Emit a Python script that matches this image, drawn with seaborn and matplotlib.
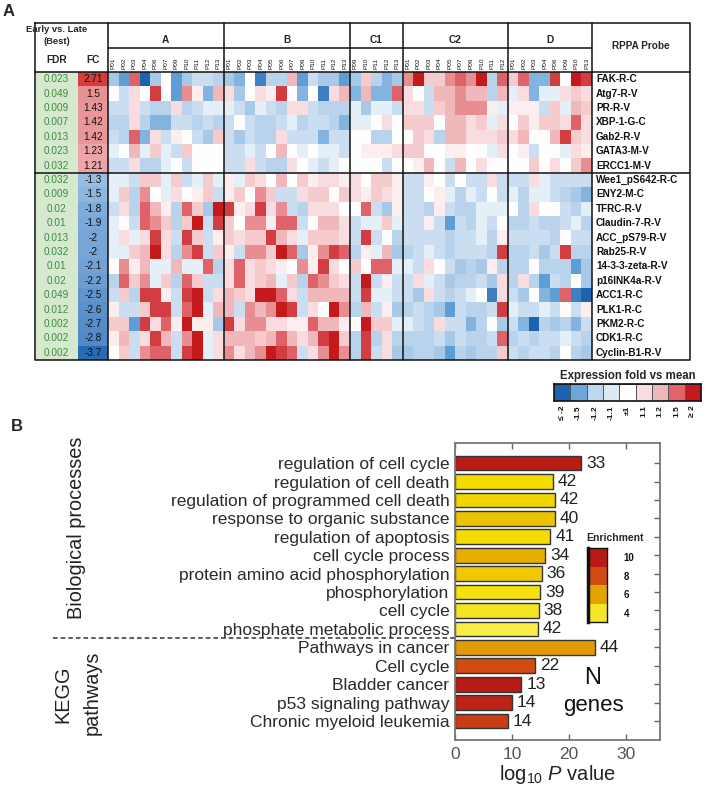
import numpy as np
import matplotlib
matplotlib.use("Agg")
import matplotlib.pyplot as plt
import seaborn as sns
from matplotlib.colors import ListedColormap, LinearSegmentedColormap, Normalize
from matplotlib.transforms import blended_transform_factory

sns.set_theme(style="white")
plt.rcParams["font.family"] = ["Liberation Sans", "DejaVu Sans"]
plt.rcParams["mathtext.fontset"] = "custom"
plt.rcParams["mathtext.rm"] = "Liberation Sans"
plt.rcParams["mathtext.it"] = "Liberation Sans:italic"

# ---------------- panel A data ----------------
groups = ["A", "B", "C1", "C2", "D"]
samples_A = ["P01", "P02", "P03", "P04", "P06", "P07", "P09", "P10", "P11", "P12", "P13"]
samples_B = ["P01", "P02", "P03", "P04", "P05", "P06", "P07", "P09", "P10", "P11", "P12", "P13"]
samples_C1 = ["P09", "P10", "P11", "P12", "P13"]
samples_C2 = ["P01", "P02", "P03", "P04", "P05", "P07", "P09", "P10", "P11", "P12"]
samples_D = ["P01", "P02", "P03", "P04", "P06", "P09", "P10", "P13"]

probes = ["FAK-R-C", "Atg7-R-V", "PR-R-V", "XBP-1-G-C", "Gab2-R-V", "GATA3-M-V", "ERCC1-M-V",
          "Wee1_pS642-R-C", "ENY2-M-C", "TFRC-R-V", "Claudin-7-R-V", "ACC_pS79-R-V", "Rab25-R-V",
          "14-3-3-zeta-R-V", "p16INK4a-R-V", "ACC1-R-C", "PLK1-R-C", "PKM2-R-C", "CDK1-R-C",
          "Cyclin-B1-R-V"]
fdr_labels = ["0.023", "0.049", "0.009", "0.007", "0.013", "0.023", "0.032", "0.032", "0.009", "0.02",
              "0.01", "0.013", "0.032", "0.01", "0.02", "0.049", "0.012", "0.002", "0.002", "0.002"]
fc_values = [2.71, 1.5, 1.43, 1.42, 1.42, 1.23, 1.21, -1.3, -1.5, -1.8, -1.9, -2, -2, -2.1, -2.2,
             -2.5, -2.6, -2.7, -2.8, -3.7]
fc_labels = ["2.71", "1.5", "1.43", "1.42", "1.42", "1.23", "1.21", "-1.3", "-1.5", "-1.8", "-1.9",
             "-2", "-2", "-2.1", "-2.2", "-2.5", "-2.6", "-2.7", "-2.8", "-3.7"]

# expression level codes: -4 (<= -2) ... 0 (+-1) ... 4 (>= 2)
expr_A = [
    [-2, -3, 3, -4, -2, 0, -3, -2, -1, -1, -1.5],
    [0, -1, 1, 0, 3.5, 0, -3, 2.5, 0.5, -2.5, 2],
    [-1, -1, 1, -1, -1.5, -1.5, 1, -1.5, -1, -0.5, -0.5],
    [-1.5, -1.5, 1, -1.5, -2.5, -2.5, -1, -1, -1.5, -1, -1.5],
    [-1, -1.5, 3, -2.5, 1, -1, 0.5, 0, -1, -2, 1.5],
    [-0.5, 0, 2, -0.5, 1.5, -0.5, -1, 1.5, 0, 0, 0],
    [-1, -1, 1, -1.5, -1.5, -0.5, 0, -1, 0, 0, 0],
    [-0.5, -0.5, -1, 1.5, 1.5, -0.5, 1.5, -1, -0.5, 1.5, -0.5],
    [-0.5, 1.5, -1.5, 2.5, 0, -0.5, 1, 0, 0.5, 1.5, -1],
    [-1, 1, -1.5, 3, 2, 0.5, -1.5, 3, 1.5, -2, 4],
    [-0.5, 0, -1, 3, 2.5, 1.5, -1.5, 1.5, 4, -1, 3.5],
    [-0.5, 1, -0.5, 1, 3.5, 1, -1, 3.5, 1.5, -1, 0.5],
    [-0.5, -0.5, 1.5, 2, 4, 1, -1.5, 2.5, 3.5, -1, 1.5],
    [0, 2.5, 0.5, 2, -0.5, -0.5, 2, -0.5, -0.5, 3, -1.5],
    [-1.5, 3, 1.5, 2.5, -0.5, 1.5, -1.5, 3, 1.5, -1, -1],
    [-1, 1.5, -1.5, 3.5, 3.5, 0.5, -1, 3.5, 4, -1, 1],
    [0.5, -1, -1, 1.5, 3.5, 3.5, -1, 3, 4, -0.5, 2],
    [1.5, 1.5, -3, 3.5, 1, 3, 0.5, 4, 0.5, 0.5, -2],
    [0.5, 2, -1, 1, 3.5, 2, -1, 2.5, 4, -0.5, 1],
    [0, 1.5, -1, 2.5, 3, 3, -1, 3.5, 4, -0.5, 1],
]
expr_B = [
    [-2, -2.5, 0, -3.5, -1.5, -1.5, 2, -3, -1, -2, -2, -3],
    [1, -2, 0, 1, 0.5, 3.5, 0, -2.5, 0, -3.5, 1, 2],
    [-0.5, -1, -2, -0.5, -1, -1.5, 1, 1, -1, -1.5, -1.5, -1.5],
    [-1, 0, -1, -1.5, -1.5, -1, -0.5, -1.5, -1, -1, -1.5, -2.5],
    [-1, -2, -1, -1.5, -1.5, 1, -1, -1, -1, -2.5, -1, -1],
    [-1, -1, -0.5, -1, 0, 2, 0, -0.5, 0, -0.5, -0.5, -1],
    [-1, -1, 1, -1, -1.5, -1.5, 1, 0, -0.5, -1, -0.5, 0],
    [0.5, -0.5, 1.5, 1, 0, 2, 0, 1.5, 0.5, 1, 1, 0.5],
    [0.5, 1.5, 0, 2.5, 1.5, -1, -1, 1, 1.5, 1.5, 0, 1.5],
    [3.5, 0.5, 1, 3.5, 1, 2.5, -1, -1.5, 1, 1, 1, 0],
    [1.5, 0, 2.5, 2.5, 0.5, 3, 3, -1, 0, 2, 2, 1],
    [1.5, 1, 1.5, 1.5, 3.5, 2, 1, -0.5, 1.5, 1.5, 1.5, 1],
    [0.5, -1, 2.5, 2.5, 1.5, 4, 3, -2, 0.5, 2.5, 3.5, 3],
    [1, 3, 1, 1.5, 1, 0.5, 0, 2.5, 0.5, 3.5, 1, 0],
    [1, 3, 1, 1.5, 2, -0.5, 1.5, -1.5, 3, 2.5, 1.5, 1],
    [2, 1.5, 1, 4, 4, 3, 1, -1, 2, 2, 2, 2],
    [2, -1, 2.5, 2, 2.5, 4, 3.5, -1, 1, 0, 4, 2.5],
    [3.5, 1, 2.5, 2.5, 1, 1, 0.5, 0.5, 3, 2, 2, 0.5],
    [2, 2, 2, 1.5, 2, 3, 2, 1, 2, 3.5, 4, 1.5],
    [2.5, 1, 2, 2.5, 4, 3.5, 3, -1, 1, 2.5, 4, 2.5],
]
expr_C1 = [
    [-2, 1.5, -1.5, -2.5, -2], [-2.5, 2, -2.5, -2.5, 3], [-0.5, -2, -0.5, -0.5, -1],
    [-0.5, -0.5, 0, 1, 0], [0, 0, -1.5, -1.5, 0], [0, 0.5, 0.5, 0.5, 1], [0, 0, 0, -1, 0],
    [1, 0, 1.5, 1.5, 0.5], [1, 0.5, 1.5, 1, 0.5], [0, 3, -1, -2, 0.5], [-1, -0.5, -0.5, 1.5, -0.5],
    [-1, 3.5, -1, 0, -1.5], [-1.5, 0.5, -0.5, 2, -2], [1.5, 0, 3, 3, -0.5], [-1, 4, -1, 0.5, -1],
    [-1, 3.5, -0.5, -0.5, -1], [-1.5, 2, -1, 0.5, -2], [0, 4, 1.5, 1.5, -0.5],
    [-1.5, 3.5, -1.5, 1, -1.5], [-1.5, 3.5, -1, 1, -2],
]
expr_C2 = [
    [2.5, 4, 1.5, 1.5, 2.5, 3, 2.5, 4, -1.5, 3],
    [1, 0, -1, 2, 2, 2.5, 2, 2, -1.5, 2],
    [1, 1, -1, 1.5, 2, 2.5, 2.5, 2.5, 0.5, -0.5],
    [1.5, 1.5, 1.5, 0, 2, 2, 1, 1.5, -0.5, 1],
    [0, 1.5, 1, -1.5, 2, 2, 1, 1, 1, 1.5],
    [1.5, 1.5, 0, 0, 0.5, 0.5, 0, 0, -0.5, 1],
    [0, 0.5, 2, 0, -1, 2, 0, 1, 0, 0],
    [-1, -1, 0.5, 0, -1, 0, -1, -1, 1, -1],
    [-1, -1, 0, 0.5, -0.5, -1.5, -0.5, -1, 0, -1],
    [-1, -1, -1.5, 0.5, -1, -1.5, -1.5, -0.5, -0.5, -0.5],
    [-1, -1, 0.5, -1, -3, -1, -1.5, -0.5, -1, 0],
    [-1, -1, -1, -1, -1.5, -1, -1, -0.5, -1.5, 0.5],
    [-1.5, -1, -0.5, -1, -1.5, -1, -1, -1, -1.5, 3.5],
    [-0.5, -1, 1, 0, -1, -2, -1.5, -2, 0.5, -1.5],
    [-1, 1, -0.5, -1, -2, -1.5, -1.5, -1, -2, 1],
    [-1, -2, 1, -1, -1.5, -1, -0.5, 0, -3.5, 1],
    [-1.5, -1, -1.5, -2, -3, -1, -1.5, -1.5, -1, 3.5],
    [-0.5, -1, -1.5, 1, -1, -1, -2.5, -1.5, 0, -2],
    [-1.5, -1.5, -1.5, -1, -2, -1, -1.5, -1.5, -1, 3],
    [-2, -1.5, -1.5, -2, -3, -1.5, -2, -1.5, -1.5, 1.5],
]
expr_D = [
    [1.5, 3, -2.5, -2.5, 3.5, 0, 4, 3.5],
    [-0.5, 1, -2.5, -0.5, -0.5, 1, 1.5, 1],
    [0.5, 0.5, 0.5, -1, 1.5, -0.5, 2, 1.5],
    [0, 1.5, 0.5, 1.5, 1.5, 1, 3, 1],
    [1, 2, 0, 0, 2, 3.5, 1.5, 1],
    [0, 0.5, -1, 0, 0, -0.5, 1, 0.5],
    [0, 0, 1.5, 0, 1, 0, 1.5, 2.5],
    [-1, -1, 1, -0.5, -1, -1, -1, -1],
    [-0.5, -1.5, -0.5, -0.5, -1, -1.5, -2, -2.5],
    [0, -1.5, 1, 0, 0, -1, -1.5, -0.5],
    [-1.5, -1.5, -1, -1.5, -1.5, -1, -0.5, -1.5],
    [-1, -1, -1, -1, -1.5, 0, -1, -1],
    [-1.5, -1.5, -1, -2, -1, 3.5, -1.5, -1.5],
    [-1.5, -1.5, 0, -1.5, -1.5, -1.5, -3, -2],
    [-1.5, 1, -1.5, -3, -1, -1.5, 0, -2],
    [-1, -2, 0, -2.5, -3, 3, -3.5, -4],
    [-0.5, -1, -1, -0.5, -1, 0, -1, 0.5],
    [-1, -2.5, -4, -1.5, -2, -1.5, -2.5, -1],
    [-1.5, -1, -1.5, -1, -1, -0.5, -1, -1.5],
    [-1, -1.5, -1, -1, -1.5, 0, -1.5, -2],
]

legend_codes = [-4, -3, -2, -1, 0, 1, 2, 3, 4]
legend_labels = ["≤ -2", "-1.5", "-1.2", "-1.1", "±1", "1.1", "1.2", "1.5", "≥ 2"]
legend_colors = ["#1b63b0", "#6ca7d9", "#bcd7ee", "#dceaf6", "#ffffff",
                 "#f8dcdf", "#f0b8bb", "#e0646a", "#c41a1c"]
cell_colors = ["#1b63b0", "#5e9ed6", "#a8c8e8", "#cadef1", "#ffffff",
               "#f9dde0", "#f1babd", "#e0646a", "#c41a1c"]

# ---------------- panel B data ----------------
terms = ["regulation of cell cycle", "regulation of cell death", "regulation of programmed cell death",
         "response to organic substance", "regulation of apoptosis", "cell cycle process",
         "protein amino acid phosphorylation", "phosphorylation", "cell cycle",
         "phosphate metabolic process", "Pathways in cancer", "Cell cycle", "Bladder cancer",
         "p53 signaling pathway", "Chronic myeloid leukemia"]
log_p = [22.1, 17.2, 17.5, 17.5, 16.7, 15.8, 15.2, 15.0, 14.7, 14.5, 24.5, 14.0, 11.6, 10.0, 9.3]
n_genes = [33, 42, 42, 40, 41, 34, 36, 39, 38, 42, 44, 22, 13, 14, 14]
enrichment = [10, 4.5, 4.7, 5.2, 4.5, 5.7, 5.0, 4.3, 4.1, 3.6, 6.2, 8, 10, 9.6, 8.6]
enrich_levels = [10, 8, 6, 4]
enrich_colors = ["#f6e62a", "#e2a400", "#d04a14", "#b81a14"]

# ---------------- figure ----------------
W, H = 709, 797
fig = plt.figure(figsize=(W / 100, H / 100), dpi=100)


def px_axes(x0, y0, x1, y1, **kw):
    return fig.add_axes([x0 / W, 1 - y1 / H, (x1 - x0) / W, (y1 - y0) / H], **kw)


# table geometry (pixels)
tx0, tx1 = 35, 690
ty0, ty_hdr, ty_row0, ty1 = 23, 48, 72, 360
fdr_x1, fc_x1 = 78, 108
hm_x1 = 592
n_rows = len(probes)
row_h = (ty1 - ty_row0) / n_rows

group_samples = [samples_A, samples_B, samples_C1, samples_C2, samples_D]
expr = np.hstack([np.array(g) for g in [expr_A, expr_B, expr_C1, expr_C2, expr_D]])
col_labels = sum(group_samples, [])
col_w = (hm_x1 - fc_x1) / len(col_labels)

expr_cmap = LinearSegmentedColormap.from_list("expr", cell_colors)
legend_cmap = ListedColormap(legend_colors)
fc_cmap = LinearSegmentedColormap.from_list(
    "fc", [(0, "#1a62b0"), (3 / 7, "#a6c7ea"), (4 / 7, "#ffffff"), (5 / 7, "#f1b4b8"), (1, "#cf2a2a")])

ax_hm = px_axes(fc_x1, ty_row0, hm_x1, ty1)
sns.heatmap(expr, cmap=expr_cmap, vmin=-4, vmax=4, cbar=False, ax=ax_hm,
            xticklabels=col_labels, yticklabels=False)
ax_hm.xaxis.tick_top()
ax_hm.tick_params(axis="x", length=0, pad=2.5, labelsize=4.6, rotation=90, colors="#111")

ax_fdr = px_axes(tx0, ty_row0, fdr_x1, ty1)
sns.heatmap(np.zeros((n_rows, 1)), cmap=ListedColormap(["#d6e9cf"]), cbar=False,
            annot=np.array(fdr_labels).reshape(-1, 1), fmt="",
            annot_kws=dict(color="#3b8a3f", fontsize=7.2), xticklabels=False, yticklabels=False, ax=ax_fdr)

ax_fc = px_axes(fdr_x1, ty_row0, fc_x1, ty1)
sns.heatmap(np.array(fc_values).reshape(-1, 1), cmap=fc_cmap, vmin=-4, vmax=3, cbar=False,
            annot=np.array(fc_labels).reshape(-1, 1), fmt="",
            annot_kws=dict(color="#111", fontsize=7.2), xticklabels=False, yticklabels=False, ax=ax_fc)

# expression legend
ax_leg = px_axes(554, 384, 701, 401)
sns.heatmap([legend_codes], cmap=legend_cmap, vmin=-4.5, vmax=4.5, cbar=False, linewidths=0.6,
            linecolor="#555", xticklabels=legend_labels, yticklabels=False, ax=ax_leg)
ax_leg.tick_params(axis="x", length=0, labelsize=6, rotation=90, pad=3, colors="#111")
for t in ax_leg.get_xticklabels():
    t.set_fontweight("bold")
for sp in ax_leg.spines.values():
    sp.set_visible(True)
    sp.set_color("#111")
    sp.set_linewidth(1.2)

# ---------------- panel B ----------------
enrich_cmap = LinearSegmentedColormap.from_list(
    "enr", [(0, "#f7ee4a"), (1 / 6.5, "#f4dc00"), (2.5 / 6.5, "#e2a400"), (4.5 / 6.5, "#d04a14"), (1, "#b81a14")])
enrich_norm = Normalize(3.5, 10)
bar_colors = [enrich_cmap(enrich_norm(e)) for e in enrichment]

ax_b = px_axes(455, 443, 660, 740)
sns.barplot(x=log_p, y=terms, hue=terms, palette=bar_colors, legend=False, orient="h",
            width=0.8, edgecolor="#333333", linewidth=1, saturation=1, ax=ax_b)
ax_b.set_xlim(0, 36)
ax_b.set_ylim(len(terms) - 1 + 1.03, -1.09)
ax_b.set_xticks([0, 10, 20, 30])
ax_b.tick_params(axis="both", direction="in", top=True, right=True, left=True, bottom=True,
                 length=4, width=1, color="#666")
ax_b.tick_params(axis="y", labelsize=12.5, labelcolor="#2a2a2a", pad=4)
ax_b.tick_params(axis="x", labelsize=12.5, labelcolor="#555", pad=5)
for sp in ax_b.spines.values():
    sp.set_visible(True)
    sp.set_color("#777")
    sp.set_linewidth(1.3)
ax_b.set_ylabel("")
ax_b.set_xlabel(r"log$_{\rm 10}$ $P$ value", fontsize=14.5, color="#222", labelpad=1)
for i, (v, n) in enumerate(zip(log_p, n_genes)):
    ax_b.text(v + 0.9, i, str(n), va="center", ha="left", fontsize=12.5, color="#222")

# dashed separator between GO terms and KEGG pathways
n_bp = 10
tr = blended_transform_factory(ax_b.transAxes, ax_b.transData)
ax_b.plot([-1.96, 0], [n_bp - 0.5, n_bp - 0.5], transform=tr, clip_on=False,
          color="#333", lw=1.1, ls=(0, (3, 2)))

# enrichment colour key
ax_en = px_axes(588, 548, 607, 622)
sns.heatmap(np.array(enrich_levels).reshape(-1, 1), cmap=ListedColormap(enrich_colors), vmin=3, vmax=11,
            cbar=False, xticklabels=False, yticklabels=[str(v) for v in enrich_levels], ax=ax_en)
ax_en.yaxis.tick_right()
ax_en.tick_params(axis="y", length=0, labelsize=7, pad=12, rotation=0, colors="#111")
for t in ax_en.get_yticklabels():
    t.set_fontweight("bold")
for name, sp in ax_en.spines.items():
    sp.set_visible(True)
    sp.set_color("#111")
    sp.set_linewidth(2.5 if name == "left" else 1)

# ---------------- overlay: table lines and text ----------------
ov = fig.add_axes([0, 0, 1, 1], zorder=10)
ov.set_xlim(0, W)
ov.set_ylim(H, 0)
ov.axis("off")
ov.patch.set_alpha(0)

lw = 1.1
ov.plot([tx0, tx1, tx1, tx0, tx0], [ty0, ty0, ty1, ty1, ty0], color="#111", lw=lw)
ov.plot([tx0, tx1], [ty_row0, ty_row0], color="#111", lw=lw)
ov.plot([fc_x1, hm_x1], [ty_hdr, ty_hdr], color="#111", lw=lw)
ov.plot([tx0, tx1], [ty_row0 + 7 * row_h] * 2, color="#111", lw=lw)

edges = np.cumsum([0] + [len(g) for g in group_samples])
for e in edges:
    x = fc_x1 + e * col_w
    ov.plot([x, x], [ty0, ty1], color="#111", lw=lw)
for g, a, b in zip(groups, edges[:-1], edges[1:]):
    ov.text(fc_x1 + (a + b) / 2 * col_w, 40, g, ha="center", va="center", fontsize=7.3, fontweight="bold")

ov.text(57, 29.5, "Early vs. Late", ha="center", va="center", fontsize=6.8, fontweight="bold")
ov.text(57, 41, "(Best)", ha="center", va="center", fontsize=6.8, fontweight="bold")
ov.text((tx0 + fdr_x1) / 2, 60, "FDR", ha="center", va="center", fontsize=7.3, fontweight="bold")
ov.text((fdr_x1 + fc_x1) / 2, 60, "FC", ha="center", va="center", fontsize=7.3, fontweight="bold")
ov.text((hm_x1 + tx1) / 2, 46, "RPPA Probe", ha="center", va="center", fontsize=7.2, fontweight="bold")
for i, p in enumerate(probes):
    ov.text(hm_x1 + 4, ty_row0 + (i + 0.5) * row_h, p, ha="left", va="center", fontsize=7.2,
            fontweight="bold", color="#111")

ov.text(628, 376, "Expression fold vs mean", ha="center", va="center", fontsize=8.3, fontweight="bold")

ov.text(3, 11, "A", ha="left", va="center", fontsize=12, fontweight="bold")
ov.text(11, 426, "B", ha="left", va="center", fontsize=12, fontweight="bold")

ov.text(76, 528, "Biological processes", rotation=90, ha="center", va="center", fontsize=14.3, color="#222")
ov.text(63, 694, "KEGG", rotation=90, ha="center", va="center", fontsize=14.3, color="#222")
ov.text(92, 693, "pathways", rotation=90, ha="center", va="center", fontsize=14.3, color="#222")
ov.text(593, 678, "N", ha="center", va="center", fontsize=17, color="#111")
ov.text(593, 706, "genes", ha="center", va="center", fontsize=16, color="#111")
ov.text(615, 538, "Enrichment", ha="center", va="center", fontsize=7.5, fontweight="bold")

fig.savefig("out.png", dpi=100)
